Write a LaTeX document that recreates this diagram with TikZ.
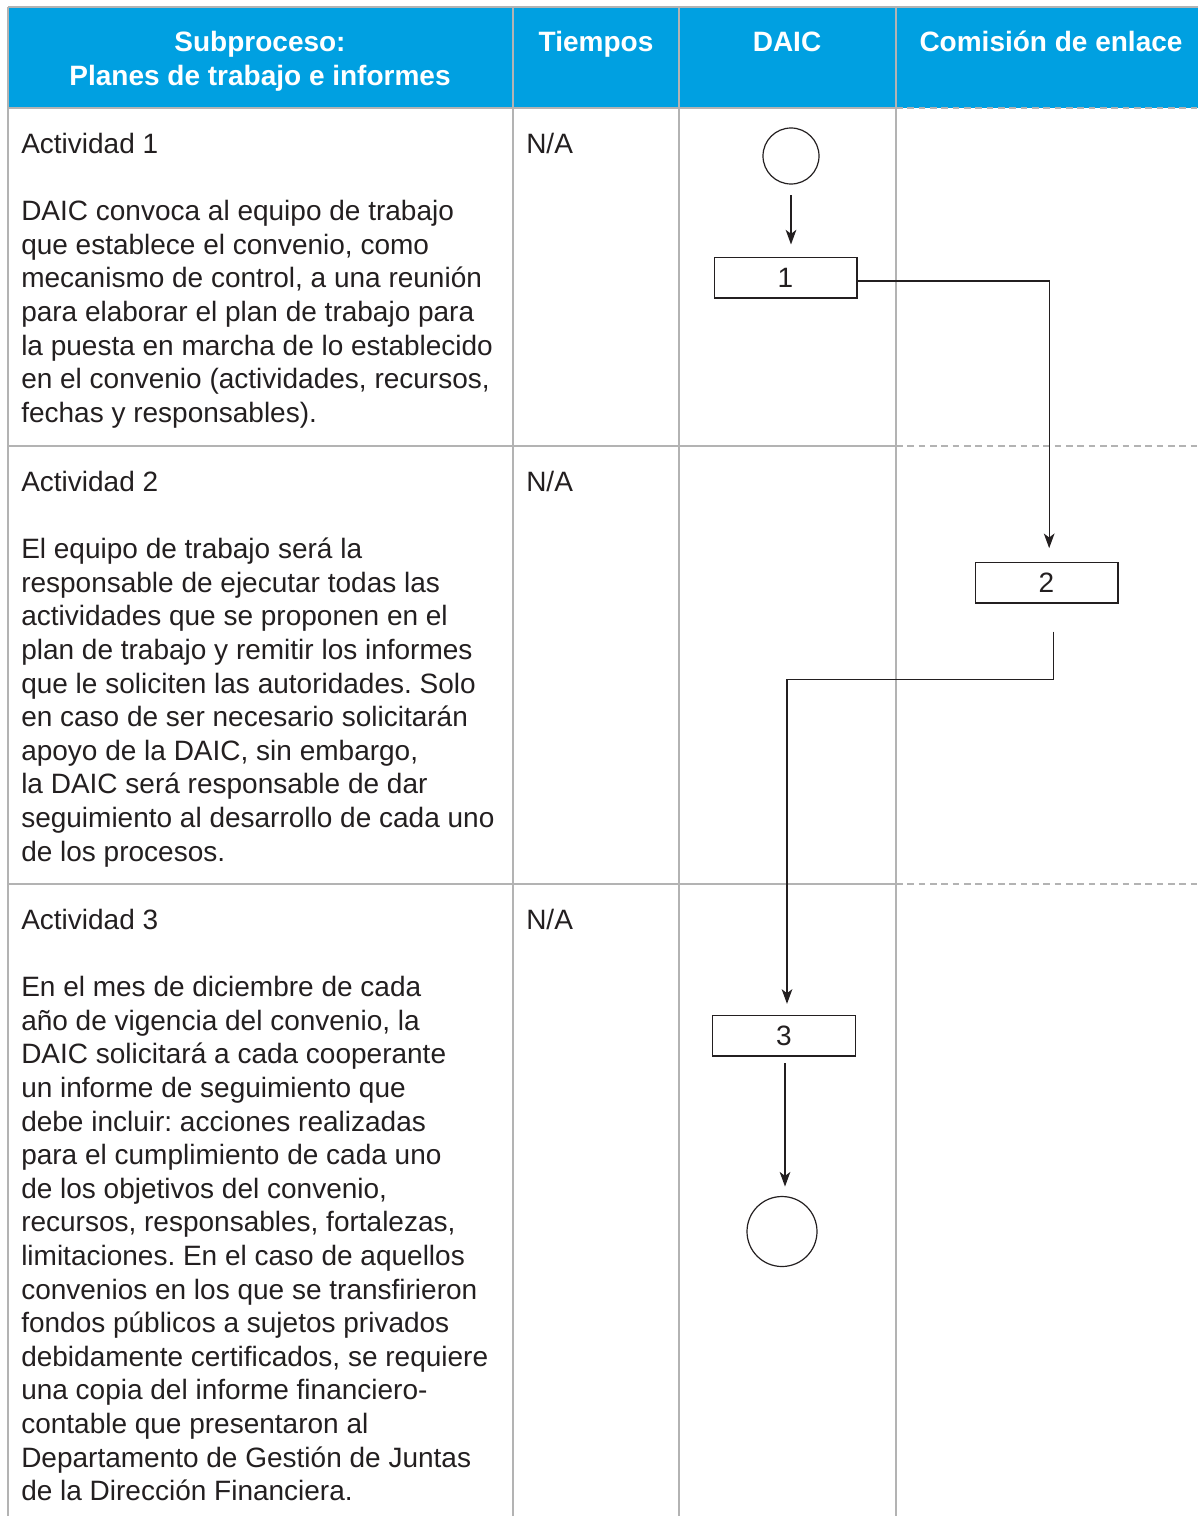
\documentclass[tikz,border=0pt]{standalone}
\usepackage{fontspec}
\setmainfont{Liberation Sans}
\usetikzlibrary{arrows.meta}
\frenchspacing
\definecolor{headblue}{HTML}{00A0E1}
\definecolor{gridgray}{HTML}{B3B3B3}
\definecolor{ink}{HTML}{231F20}
\tikzset{
  grid/.style={draw=gridgray, line width=1.5pt},
  griddash/.style={draw=gridgray, line width=1.2pt, dash pattern=on 5pt off 3.5pt},
  headtxt/.style={text=white, font=\fontsize{21}{25.5}\selectfont\bfseries, inner sep=0pt},
  celltxt/.style={text=ink, font=\fontsize{21}{25.2}\selectfont, inner sep=0pt, align=left, anchor=north west},
  stepbox/.style={draw=ink, line width=1pt, minimum width=107pt, minimum height=30.5pt, inner sep=0pt, text=ink, font=\fontsize{21}{25}\selectfont},
  term/.style={draw=ink, line width=0.9pt, circle, inner sep=0pt},
  flow/.style={draw=ink, line width=1pt, -{Stealth[length=11pt,width=8pt,inset=3pt]}}
}
\begin{document}
\begin{tikzpicture}[x=0.75pt,y=-0.75pt]
\useasboundingbox (0,0) rectangle (1198,1516);

% header band
\fill[headblue] (8,7) rectangle (1198,108);

% grid lines
\draw[grid] (8,7) -- (1198,7);
\draw[grid] (8,7) -- (8,1516);
\draw[grid] (513,7) -- (513,1516);
\draw[grid] (679,7) -- (679,1516);
\draw[grid] (896,7) -- (896,1516);
\draw[grid] (8,108) -- (896,108);
\draw[grid] (8,446) -- (896,446);
\draw[grid] (8,884) -- (896,884);
\draw[griddash] (896,108) -- (1198,108);
\draw[griddash] (896,446) -- (1198,446);
\draw[griddash] (896,884) -- (1198,884);

% header texts
\node[headtxt, align=center, anchor=north] (hsub) at (260,31) {Subproceso:\\Planes de trabajo e informes};
\node[headtxt, anchor=base] (htime) at (596,52) {Tiempos};
\node[headtxt, anchor=base] (hdaic) at (787,52) {DAIC};
\node[headtxt, anchor=base] (hcom) at (1051,52) {Comisión de enlace};

% activity descriptions
\node[celltxt] (act1) at (21,133) {Actividad 1\\[25.2pt]
DAIC convoca al equipo de trabajo\\
que establece el convenio, como\\
mecanismo de control, a una reunión\\
para elaborar el plan de trabajo para\\
la puesta en marcha de lo establecido\\
en el convenio (actividades, recursos,\\
fechas y responsables).};

\node[celltxt] (act2) at (21,471) {Actividad 2\\[25.2pt]
El equipo de trabajo será la\\
responsable de ejecutar todas las\\
actividades que se proponen en el\\
plan de trabajo y remitir los informes\\
que le soliciten las autoridades. Solo\\
en caso de ser necesario solicitarán\\
apoyo de la DAIC, sin embargo,\\
la DAIC será responsable de dar\\
seguimiento al desarrollo de cada uno\\
de los procesos.};

\node[celltxt] (act3) at (21,909) {Actividad 3\\[25.2pt]
En el mes de diciembre de cada\\
año de vigencia del convenio, la\\
DAIC solicitará a cada cooperante\\
un informe de seguimiento que\\
debe incluir: acciones realizadas\\
para el cumplimiento de cada uno\\
de los objetivos del convenio,\\
recursos, responsables, fortalezas,\\
limitaciones. En el caso de aquellos\\
convenios en los que se transfirieron\\
fondos públicos a sujetos privados\\
debidamente certificados, se requiere\\
una copia del informe financiero-\\
contable que presentaron al\\
Departamento de Gestión de Juntas\\
de la Dirección Financiera.};

% times
\node[celltxt] (t1) at (526,133) {N/A};
\node[celltxt] (t2) at (526,471) {N/A};
\node[celltxt] (t3) at (526,909) {N/A};

% flow
\node[term, minimum size=42pt] (start) at (791,156) {};
\node[stepbox] (s1) at (785.5,277.5) {1};
\node[stepbox] (s2) at (1046.5,582.5) {2};
\node[stepbox] (s3) at (784,1035.5) {3};
\node[term, minimum size=52.5pt] (stop) at (782,1231.5) {};

\draw[flow, shorten <=8pt, shorten >=9pt] (start.south) -- (start.south |- s1.north);
\draw[flow, shorten >=10pt] ([yshift=-2.5pt]s1.east) -| ([xshift=2pt]s2.north);
\draw[flow, shorten <=21pt, shorten >=8pt] ([xshift=5pt]s2.south) -- ++(0,76) -| ([xshift=2.25pt]s3.north);
\draw[flow, shorten <=5pt, shorten >=7pt] ([xshift=0.75pt]s3.south) -- ([xshift=0.75pt]s3.south |- stop.north);
\end{tikzpicture}
\end{document}
